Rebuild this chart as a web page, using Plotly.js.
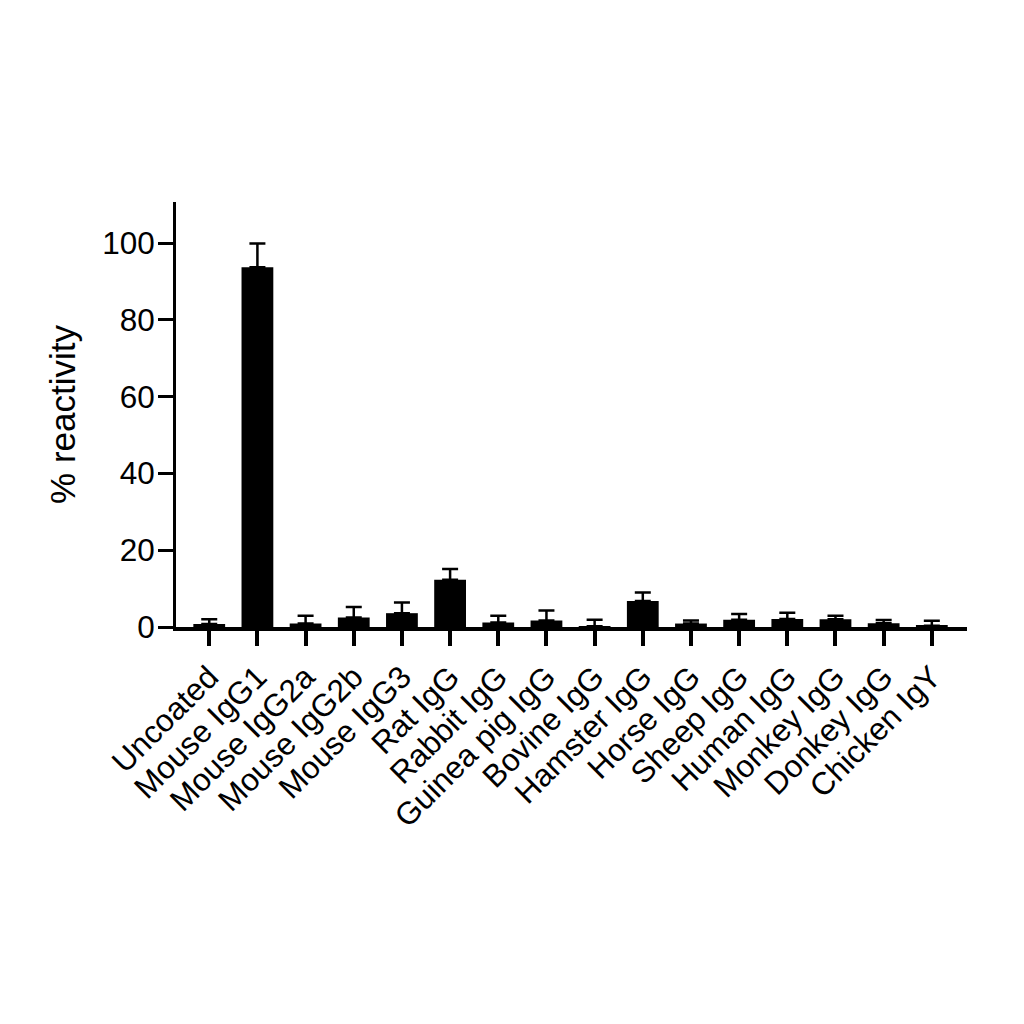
<!DOCTYPE html>
<html>
<head>
<meta charset="utf-8">
<script src="https://cdn.plot.ly/plotly-3.0.1.min.js"></script>
<style>
  html, body { margin: 0; padding: 0; background: #fff; }
  #chart { width: 1024px; height: 1024px; }
</style>
</head>
<body>
<div id="chart"></div>
<script>
// categories and values
const antibodies = ["Uncoated", "Mouse IgG1", "Mouse IgG2a", "Mouse IgG2b", "Mouse IgG3",
    "Rat IgG", "Rabbit IgG", "Guinea pig IgG", "Bovine IgG", "Hamster IgG",
    "Horse IgG", "Sheep IgG", "Human IgG", "Monkey IgG", "Donkey IgG", "Chicken IgY"];
const reactivity = [0.8, 93.7, 0.9, 2.5, 3.6, 12.3, 1.2, 1.7, 0.2, 6.8, 0.9, 1.9, 2.1, 2.0, 1.0, 0.3];
const errUp = [1.2, 6.2, 2.0, 2.7, 2.8, 2.8, 1.7, 2.6, 1.7, 2.2, 0.8, 1.5, 1.6, 0.9, 0.8, 1.3];
const yTicks = [0, 20, 40, 60, 80, 100];

const font = "Arial, 'Liberation Sans', sans-serif";

const data = [{
    type: "bar",
    x: antibodies,
    y: reactivity,
    width: 0.66,
    marker: {color: "#000", line: {width: 0}},
    error_y: {
        type: "data",
        symmetric: false,
        array: errUp,
        arrayminus: antibodies.map(() => 0),
        color: "#000",
        thickness: 2.5,
        width: 8
    },
    hoverinfo: "x+y"
}];

const layout = {
    width: 1024,
    height: 1024,
    margin: {l: 176, r: 57, t: 202, b: 397},
    paper_bgcolor: "#fff",
    plot_bgcolor: "#fff",
    showlegend: false,
    font: {family: font, color: "#000"},
    xaxis: {
        type: "category",
        range: [-0.69, 15.73],
        showline: true,
        linecolor: "#000",
        linewidth: 4,
        ticks: "outside",
        ticklen: 15,
        tickwidth: 4,
        tickcolor: "#000",
        tickangle: -45,
        tickfont: {family: font, size: 31.5, color: "#000"},
        showgrid: false,
        zeroline: false
    },
    yaxis: {
        range: [0, 110.7],
        tickvals: yTicks,
        ticktext: yTicks.map(String),
        showline: true,
        linecolor: "#000",
        linewidth: 3,
        ticks: "outside",
        ticklen: 15,
        tickwidth: 3,
        tickcolor: "#000",
        ticklabelstandoff: -3,
        tickfont: {family: font, size: 31.5, color: "#000"},
        showgrid: false,
        zeroline: false,
        title: {text: "% reactivity", font: {family: font, size: 35, color: "#000"}, standoff: 16}
    }
};

Plotly.newPlot("chart", data, layout, {displayModeBar: false, responsive: false});
</script>
</body>
</html>
